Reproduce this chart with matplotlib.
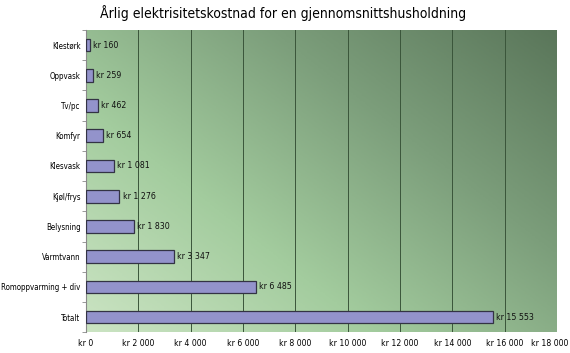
import matplotlib.pyplot as plt
import matplotlib.transforms as mtransforms
import numpy as np
from matplotlib.colors import LinearSegmentedColormap

categories = ["Klestørk", "Oppvask", "Tv/pc", "Komfyr", "Klesvask",
              "Kjøl/frys", "Belysning", "Varmtvann", "Romoppvarming + div", "Totalt"]
values = [160, 259, 462, 654, 1081, 1276, 1830, 3347, 6485, 15553]
x_ticks = list(range(0, 18001, 2000))

plt.rcParams["font.family"] = ["DejaVu Sans"]
plt.rcParams["font.stretch"] = "condensed"


def kr(v):
    return "kr " + format(v, ",").replace(",", " ")


fig = plt.figure(figsize=(5.7, 3.53), dpi=100)
ax = fig.add_axes([0.151, 0.059, 0.826, 0.856])

# diagonal gradient background
n = 200
xx, yy = np.meshgrid(np.linspace(0, 1, n), np.linspace(0, 1, n))
grad = (xx * 0.55 + yy * 0.45)
cmap = LinearSegmentedColormap.from_list("bg", ["#cbe4c3", "#a3cc9e", "#7c9e7b", "#5a765a"])
ax.imshow(grad, extent=[0, 1, 0, 1], transform=ax.transAxes, origin="lower",
          cmap=cmap, aspect="auto", zorder=0)

y = np.arange(len(categories))
ax.barh(y, values, height=0.42, color="#9393cb", edgecolor="#333344", linewidth=0.9, zorder=3)
for yi, v in zip(y, values):
    ax.text(v + 120, yi, kr(v), va="center", ha="left", fontsize=6.3, color="#111111", zorder=4)

ax.set_xlim(0, 18000)
ax.set_ylim(len(categories) - 0.5, -0.5)
ax.set_xticks(x_ticks)
ax.set_xticklabels([kr(t) for t in x_ticks], fontsize=6.2)
ax.set_yticks(y)
ax.set_yticklabels(categories, fontsize=5.7)
ax.set_yticks(np.arange(-0.5, len(categories), 1), minor=True)
ax.tick_params(axis="y", which="major", length=0, pad=4)
ax.tick_params(axis="y", which="minor", length=3, color="#888888")
ax.tick_params(axis="x", length=0, pad=5)
ax.xaxis.grid(True, color="#3a553a", linewidth=0.7, zorder=1)
ax.set_axisbelow(True)
for s in ["top", "right"]:
    ax.spines[s].set_visible(False)
ax.spines["left"].set_color("#888888")
ax.spines["bottom"].set_visible(False)

# nudge the last x label so it stays inside the figure
last = ax.get_xticklabels()[-1]
last.set_transform(last.get_transform() + mtransforms.ScaledTranslation(-5 / 72, 0, fig.dpi_scale_trans))

fig.suptitle("Årlig elektrisitetskostnad for en gjennomsnittshusholdning", x=0.497, y=0.985, fontsize=10)
fig.savefig("out.png", dpi=100)
